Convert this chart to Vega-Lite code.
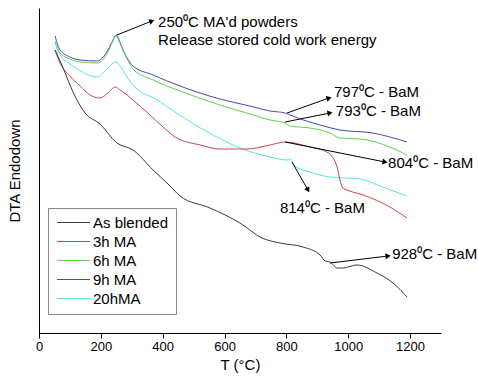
{
  "$schema": "https://vega.github.io/schema/vega-lite/v6.json",
  "width": 402,
  "height": 325,
  "autosize": "none",
  "padding": {"left": 39, "top": 8, "right": 37, "bottom": 46},
  "background": "white",
  "config": {
    "font": "Liberation Sans",
    "view": {"stroke": null},
    "axis": {"grid": false, "domainColor": "#000", "tickColor": "#000", "labelColor": "#000", "titleColor": "#000", "titleFontWeight": "normal"}
  },
  "datasets": {
    "curves": [
      {"series": "9h MA", "T": 52, "v": 297}, {"series": "9h MA", "T": 68, "v": 283}, {"series": "9h MA", "T": 100, "v": 276}, {"series": "9h MA", "T": 133, "v": 273}, {"series": "9h MA", "T": 188, "v": 272}, {"series": "9h MA", "T": 223, "v": 283}, {"series": "9h MA", "T": 239, "v": 293}, {"series": "9h MA", "T": 249, "v": 298}, {"series": "9h MA", "T": 259, "v": 293}, {"series": "9h MA", "T": 272, "v": 283}, {"series": "9h MA", "T": 285, "v": 275}, {"series": "9h MA", "T": 304, "v": 267}, {"series": "9h MA", "T": 369, "v": 258}, {"series": "9h MA", "T": 456, "v": 247}, {"series": "9h MA", "T": 585, "v": 234}, {"series": "9h MA", "T": 682, "v": 227}, {"series": "9h MA", "T": 747, "v": 222}, {"series": "9h MA", "T": 796, "v": 220}, {"series": "9h MA", "T": 805, "v": 219}, {"series": "9h MA", "T": 828, "v": 216}, {"series": "9h MA", "T": 909, "v": 208}, {"series": "9h MA", "T": 973, "v": 203}, {"series": "9h MA", "T": 1080, "v": 200}, {"series": "9h MA", "T": 1135, "v": 196}, {"series": "9h MA", "T": 1190, "v": 191},
      {"series": "6h MA", "T": 52, "v": 292}, {"series": "6h MA", "T": 68, "v": 280}, {"series": "6h MA", "T": 100, "v": 274}, {"series": "6h MA", "T": 133, "v": 271}, {"series": "6h MA", "T": 188, "v": 270}, {"series": "6h MA", "T": 223, "v": 281}, {"series": "6h MA", "T": 239, "v": 292}, {"series": "6h MA", "T": 249, "v": 297}, {"series": "6h MA", "T": 259, "v": 292}, {"series": "6h MA", "T": 272, "v": 282}, {"series": "6h MA", "T": 285, "v": 274}, {"series": "6h MA", "T": 304, "v": 264}, {"series": "6h MA", "T": 369, "v": 253}, {"series": "6h MA", "T": 456, "v": 242}, {"series": "6h MA", "T": 585, "v": 228}, {"series": "6h MA", "T": 682, "v": 219}, {"series": "6h MA", "T": 747, "v": 213}, {"series": "6h MA", "T": 796, "v": 210}, {"series": "6h MA", "T": 812, "v": 207}, {"series": "6h MA", "T": 876, "v": 205}, {"series": "6h MA", "T": 941, "v": 200}, {"series": "6h MA", "T": 973, "v": 195}, {"series": "6h MA", "T": 1038, "v": 194}, {"series": "6h MA", "T": 1135, "v": 186}, {"series": "6h MA", "T": 1190, "v": 178},
      {"series": "20hMA", "T": 52, "v": 290}, {"series": "20hMA", "T": 68, "v": 278}, {"series": "20hMA", "T": 100, "v": 269}, {"series": "20hMA", "T": 133, "v": 262}, {"series": "20hMA", "T": 188, "v": 256}, {"series": "20hMA", "T": 217, "v": 263}, {"series": "20hMA", "T": 236, "v": 269}, {"series": "20hMA", "T": 249, "v": 271}, {"series": "20hMA", "T": 262, "v": 267}, {"series": "20hMA", "T": 278, "v": 259}, {"series": "20hMA", "T": 304, "v": 248}, {"series": "20hMA", "T": 382, "v": 233}, {"series": "20hMA", "T": 479, "v": 213}, {"series": "20hMA", "T": 563, "v": 198}, {"series": "20hMA", "T": 650, "v": 185}, {"series": "20hMA", "T": 747, "v": 176}, {"series": "20hMA", "T": 802, "v": 173}, {"series": "20hMA", "T": 812, "v": 174}, {"series": "20hMA", "T": 828, "v": 167}, {"series": "20hMA", "T": 876, "v": 161}, {"series": "20hMA", "T": 941, "v": 156}, {"series": "20hMA", "T": 990, "v": 155}, {"series": "20hMA", "T": 1038, "v": 154}, {"series": "20hMA", "T": 1103, "v": 147}, {"series": "20hMA", "T": 1190, "v": 137},
      {"series": "3h MA", "T": 52, "v": 283}, {"series": "3h MA", "T": 68, "v": 270}, {"series": "3h MA", "T": 100, "v": 257}, {"series": "3h MA", "T": 133, "v": 247}, {"series": "3h MA", "T": 165, "v": 238}, {"series": "3h MA", "T": 197, "v": 235}, {"series": "3h MA", "T": 223, "v": 240}, {"series": "3h MA", "T": 246, "v": 246}, {"series": "3h MA", "T": 262, "v": 243}, {"series": "3h MA", "T": 285, "v": 238}, {"series": "3h MA", "T": 304, "v": 233}, {"series": "3h MA", "T": 359, "v": 218}, {"series": "3h MA", "T": 401, "v": 206}, {"series": "3h MA", "T": 440, "v": 196}, {"series": "3h MA", "T": 521, "v": 188}, {"series": "3h MA", "T": 585, "v": 184}, {"series": "3h MA", "T": 673, "v": 184}, {"series": "3h MA", "T": 747, "v": 188}, {"series": "3h MA", "T": 796, "v": 191}, {"series": "3h MA", "T": 876, "v": 186}, {"series": "3h MA", "T": 931, "v": 181}, {"series": "3h MA", "T": 951, "v": 175}, {"series": "3h MA", "T": 964, "v": 166}, {"series": "3h MA", "T": 973, "v": 153}, {"series": "3h MA", "T": 983, "v": 145}, {"series": "3h MA", "T": 996, "v": 143}, {"series": "3h MA", "T": 1048, "v": 138}, {"series": "3h MA", "T": 1135, "v": 126}, {"series": "3h MA", "T": 1190, "v": 115},
      {"series": "As blended", "T": 52, "v": 283}, {"series": "As blended", "T": 78, "v": 265}, {"series": "As blended", "T": 110, "v": 241}, {"series": "As blended", "T": 149, "v": 220}, {"series": "As blended", "T": 197, "v": 209}, {"series": "As blended", "T": 252, "v": 190}, {"series": "As blended", "T": 304, "v": 183}, {"series": "As blended", "T": 369, "v": 163}, {"series": "As blended", "T": 424, "v": 147}, {"series": "As blended", "T": 456, "v": 137}, {"series": "As blended", "T": 553, "v": 125}, {"series": "As blended", "T": 650, "v": 110}, {"series": "As blended", "T": 721, "v": 95}, {"series": "As blended", "T": 779, "v": 90}, {"series": "As blended", "T": 854, "v": 86}, {"series": "As blended", "T": 909, "v": 78}, {"series": "As blended", "T": 925, "v": 72}, {"series": "As blended", "T": 941, "v": 71}, {"series": "As blended", "T": 964, "v": 65}, {"series": "As blended", "T": 983, "v": 65}, {"series": "As blended", "T": 1028, "v": 68}, {"series": "As blended", "T": 1093, "v": 60}, {"series": "As blended", "T": 1145, "v": 50}, {"series": "As blended", "T": 1190, "v": 36}
    ],
    "arrows": [
      {"T1": 252, "v1": 298, "T2": 365, "v2": 312},
      {"T1": 802, "v1": 220, "T2": 938, "v2": 235},
      {"T1": 796, "v1": 211, "T2": 941, "v2": 220},
      {"T1": 796, "v1": 191, "T2": 1119, "v2": 171},
      {"T1": 818, "v1": 171, "T2": 870, "v2": 143},
      {"T1": 941, "v1": 70, "T2": 1129, "v2": 77}
    ],
    "notes": [
      {"T": 385, "v": 306, "label": "250⁰C MA'd powders"},
      {"T": 385, "v": 288, "label": "Release stored cold work energy"},
      {"T": 954, "v": 236, "label": "797⁰C - BaM"},
      {"T": 960, "v": 217, "label": "793⁰C - BaM"},
      {"T": 1129, "v": 165, "label": "804⁰C - BaM"},
      {"T": 779, "v": 120, "label": "814⁰C - BaM"},
      {"T": 1142, "v": 74, "label": "928⁰C - BaM"}
    ]
  },
  "layer": [
    {
      "data": {"name": "curves"},
      "mark": {"type": "line", "strokeWidth": 1, "interpolate": "monotone"},
      "encoding": {
        "x": {"field": "T", "type": "quantitative", "scale": {"domain": [0, 1300], "nice": false, "zero": false},
          "axis": {"title": "T (°C)", "titleFontSize": 15, "titlePadding": 4, "labelFontSize": 13, "labelPadding": 2, "format": "d",
            "values": [0, 100, 200, 300, 400, 500, 600, 700, 800, 900, 1000, 1100, 1200, 1300],
            "labelExpr": "datum.value % 200 === 0 && datum.value <= 1200 ? datum.label : ''",
            "tickSize": 5, "labelFlush": false, "labelOverlap": false}},
        "y": {"field": "v", "type": "quantitative", "scale": {"domain": [0, 325], "nice": false},
          "axis": {"title": "DTA Endodown", "titleFontSize": 15, "labels": false, "ticks": false, "titlePadding": 17}},
        "color": {"field": "series", "type": "nominal",
          "scale": {"domain": ["As blended", "3h MA", "6h MA", "9h MA", "20hMA"], "range": ["#3a3a3a", "#c24a4a", "#5fd24f", "#4848b8", "#55e4e4"]},
          "legend": {"title": null, "orient": "none", "legendX": 9, "legendY": 200, "padding": 7, "fillColor": "white", "strokeColor": "#888",
            "symbolType": "M-1,0H5", "symbolSize": 121, "symbolStrokeWidth": 1, "labelFontSize": 15, "labelColor": "#000", "rowPadding": 3, "labelOffset": 23}}
      }
    },
    {
      "data": {"name": "arrows"},
      "mark": {"type": "rule", "color": "#000", "strokeWidth": 1},
      "encoding": {
        "x": {"field": "T1", "type": "quantitative"},
        "y": {"field": "v1", "type": "quantitative"},
        "x2": {"field": "T2"},
        "y2": {"field": "v2"}
      }
    },
    {
      "data": {"name": "arrows"},
      "transform": [{"calculate": "atan2(-(datum.v2 - datum.v1), (datum.T2 - datum.T1) * 402 / 1300) * 180 / PI", "as": "ang"}],
      "mark": {"type": "point", "shape": "triangle-right", "filled": true, "color": "#000", "size": 35, "opacity": 1},
      "encoding": {
        "x": {"field": "T2", "type": "quantitative"},
        "y": {"field": "v2", "type": "quantitative"},
        "angle": {"field": "ang", "type": "quantitative", "scale": null}
      }
    },
    {
      "data": {"name": "notes"},
      "mark": {"type": "text", "align": "left", "baseline": "alphabetic", "fontSize": 15, "color": "#000"},
      "encoding": {
        "x": {"field": "T", "type": "quantitative"},
        "y": {"field": "v", "type": "quantitative"},
        "text": {"field": "label"}
      }
    }
  ]
}
